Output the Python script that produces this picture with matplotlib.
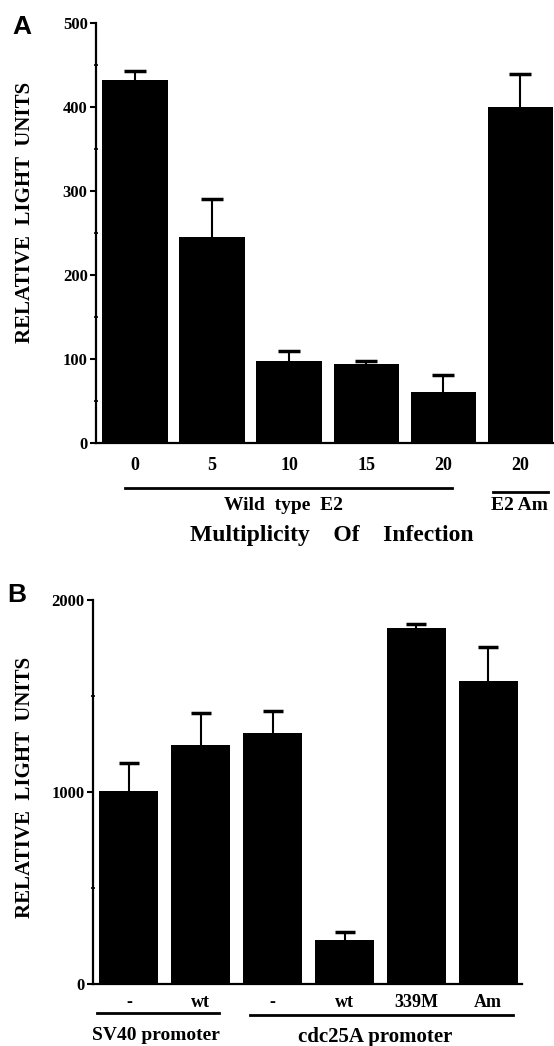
import matplotlib
matplotlib.use("Agg")
import matplotlib.pyplot as plt
import matplotlib.transforms as mtransforms
from matplotlib.ticker import MultipleLocator

# ---- Data ----
a_labels = ["0", "5", "10", "15", "20", "20"]
a_values = [432, 245, 98, 94, 61, 400]
a_errors = [11, 45, 12, 4, 20, 39]

b_labels = ["-", "wt", "-", "wt", "339M", "Am"]
b_values = [1005, 1245, 1307, 229, 1854, 1578]
b_errors = [146, 166, 115, 42, 20, 177]

W, H = 554, 1046
fig = plt.figure(figsize=(W / 100, H / 100), dpi=100)
serif = "Liberation Serif"
sans = "Liberation Sans"


def fx(x):
    return x / W


def fy(y):
    return 1 - y / H


def style_axes(ax, major, minor, ymax):
    for s in ["top", "right"]:
        ax.spines[s].set_visible(False)
    ax.spines["left"].set_linewidth(1.6)
    ax.spines["bottom"].set_linewidth(1.6)
    ax.set_ylim(0, ymax)
    ax.yaxis.set_major_locator(MultipleLocator(major))
    ax.yaxis.set_minor_locator(MultipleLocator(minor))
    ax.tick_params(axis="y", which="major", direction="out", length=4, width=1.5,
                   labelsize=12, pad=2)
    ax.tick_params(axis="y", which="minor", direction="inout", length=3, width=1.2)
    ax.tick_params(axis="x", length=0)
    for lab in ax.get_yticklabels():
        lab.set_fontfamily(serif)
        lab.set_fontweight("bold")


def upper_errorbars(ax, x, vals, errs, capsize):
    cont = ax.errorbar(x, vals, yerr=[[0] * len(errs), errs], fmt="none",
                       ecolor="black", elinewidth=1.5, capsize=capsize,
                       capthick=2.5, zorder=1)
    caps = cont[1]
    if len(caps) > 0:
        caps[0].set_visible(False)


# ---- Panel A ----
axA = fig.add_axes([fx(96), fy(443), fx(554) - fx(96), (443 - 23) / H])
xa = list(range(len(a_values)))
axA.bar(xa, a_values, width=0.845, color="black", zorder=2)
upper_errorbars(axA, xa, a_values, a_errors, 8)
axA.set_xlim(-0.506, 5.44)
style_axes(axA, 100, 50, 500)
axA.set_xticks(xa)
axA.set_xticklabels(a_labels, fontfamily=serif, fontweight="bold", fontsize=13)
axA.tick_params(axis="x", pad=10)

transA = mtransforms.blended_transform_factory(axA.transData, axA.transAxes)
axA.plot([-0.13, 4.12], [-45 / 420, -45 / 420], color="black", lw=2,
         transform=transA, clip_on=False)
axA.plot([4.65, 5.36], [-49 / 420, -49 / 420], color="black", lw=2,
         transform=transA, clip_on=False)

fig.text(fx(283), fy(506), "Wild  type  E2", fontfamily=serif, fontweight="bold",
         fontsize=14, ha="center", va="center")
fig.text(fx(519), fy(506), "E2 Am", fontfamily=serif, fontweight="bold",
         fontsize=14, ha="center", va="center")
fig.text(fx(332), fy(535), "Multiplicity    Of    Infection", fontfamily=serif,
         fontweight="bold", fontsize=17, ha="center", va="center")
fig.text(fx(25), fy(212), "RELATIVE  LIGHT  UNITS", fontfamily=serif,
         fontweight="bold", fontsize=15, rotation=90, ha="center", va="center")
fig.text(fx(22), fy(27), "A", fontfamily=sans, fontweight="bold", fontsize=19,
         ha="center", va="center")

# ---- Panel B ----
axB = fig.add_axes([fx(93), fy(984), fx(522) - fx(93), (984 - 600) / H])
xb = list(range(len(b_values)))
axB.bar(xb, b_values, width=0.82, color="black", zorder=2)
upper_errorbars(axB, xb, b_values, b_errors, 7.5)
axB.set_xlim(-0.50, 5.47)
style_axes(axB, 1000, 500, 2000)
axB.set_xticks(xb)
axB.set_xticklabels(b_labels, fontfamily=serif, fontweight="bold", fontsize=13)
axB.tick_params(axis="x", pad=7)

transB = mtransforms.blended_transform_factory(axB.transData, axB.transAxes)
axB.plot([-0.45, 1.26], [-29 / 384, -29 / 384], color="black", lw=2,
         transform=transB, clip_on=False)
axB.plot([1.69, 5.35], [-31 / 384, -31 / 384], color="black", lw=2,
         transform=transB, clip_on=False)

fig.text(fx(156), fy(1036), "SV40 promoter", fontfamily=serif, fontweight="bold",
         fontsize=14, ha="center", va="center")
fig.text(fx(375), fy(1037), "cdc25A promoter", fontfamily=serif, fontweight="bold",
         fontsize=15, ha="center", va="center")
fig.text(fx(25), fy(787), "RELATIVE  LIGHT  UNITS", fontfamily=serif,
         fontweight="bold", fontsize=15, rotation=90, ha="center", va="center")
fig.text(fx(17), fy(595), "B", fontfamily=sans, fontweight="bold", fontsize=19,
         ha="center", va="center")

fig.savefig("out.png", dpi=100)
